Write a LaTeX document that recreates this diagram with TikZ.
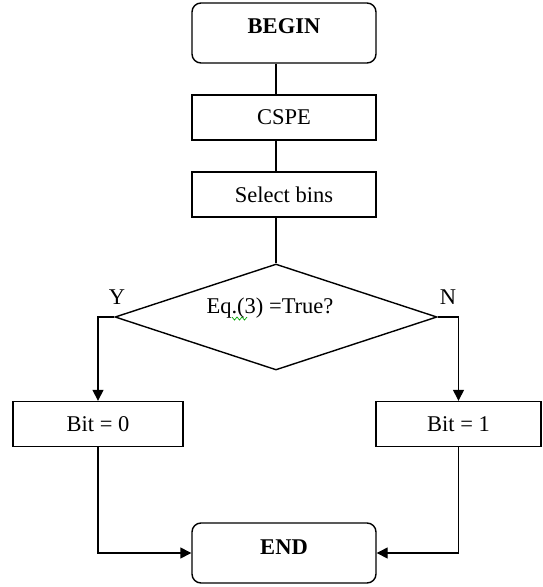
\documentclass[tikz,border=0pt]{standalone}
\usepackage{fontspec}
\setmainfont{Liberation Serif}
\usetikzlibrary{shapes.geometric,arrows.meta,calc}
\begin{document}
\begin{tikzpicture}[x=1pt,y=-1pt,
  every node/.style={font=\fontsize{22.5}{26}\selectfont},
  box/.style={draw, line width=1.4pt, minimum width=184pt, minimum height=45pt, inner sep=0pt},
  term/.style={box, rounded corners=9pt, minimum height=60pt,
    font=\fontsize{22.5}{26}\selectfont\bfseries},
  decision/.style={draw, diamond, line width=1.4pt, minimum width=322pt,
    minimum height=106pt, inner sep=0pt},
  link/.style={line width=1.4pt},
  arrow/.style={link, -{Triangle[length=11pt,width=11pt]}},
  squiggle/.style={draw=green!65!black, line width=0.7pt},
]
\useasboundingbox (0,0) rectangle (542,587);

% process chain
\node[term, text depth=14pt] (begin) at (284,33) {BEGIN};
\node[box] (cspe) at (284,117.5) {CSPE};
\node[box] (sel) at (284,194.5) {Select bins};

% decision
\node[decision] (q) at (276,317) {};
\node (qtext) at (270,308) {Eq.(3) =True?};
\node (ylab) at (117,297) {Y};
\node (nlab) at (448,297) {N};

% outcomes
\node[box, minimum width=170pt] (b0) at (98,424) {Bit = 0};
\node[box, minimum width=165pt] (b1) at (458.5,424) {Bit = 1};
\node[term, text depth=12pt] (end) at (284,553) {END};

% connectors
\draw[link] (begin.south -| q.north) -- (cspe.north -| q.north);
\draw[link] (cspe.south -| q.north) -- (sel.north -| q.north);
\draw[link] (sel.south -| q.north) -- (q.north);
\draw[arrow] (q.west) -| (b0.north);
\draw[arrow] (q.east) -| (b1.north);
\draw[arrow] (b0.south) |- (end.west);
\draw[arrow] (b1.south) |- (end.east);

% spell-check wave under the period
\draw[squiggle] ($(qtext)+(-38,9)$) -- ++(2.5,3) -- ++(2.5,-3) -- ++(2.5,3)
  -- ++(2.5,-3) -- ++(2.5,3) -- ++(2.5,-3);
\end{tikzpicture}
\end{document}
